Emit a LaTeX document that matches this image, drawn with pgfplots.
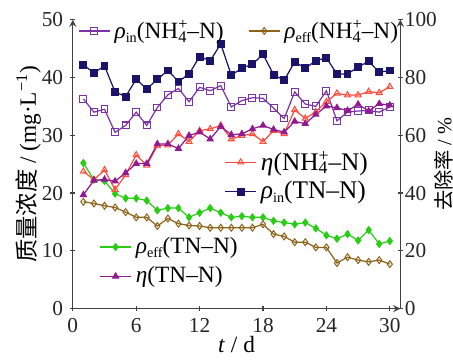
\documentclass[border=0pt]{standalone}
\usepackage{fontspec}
\setmainfont{Liberation Serif}
\newfontfamily\cjk{Noto Sans CJK SC}
\usepackage{pgfplots}
\usepackage{pgfplotstable}
\pgfplotsset{compat=1.18}
\definecolor{cRinNH}{RGB}{125,50,165}
\definecolor{cReffNH}{RGB}{140,100,25}
\definecolor{cEtaNH}{RGB}{255,75,60}
\definecolor{cRinTN}{RGB}{25,20,105}
\definecolor{cReffTN}{RGB}{40,205,20}
\definecolor{cEtaTN}{RGB}{145,25,145}
\pgfplotstableread{
t rinNH reffNH etaNH rinTN reffTN etaTN
1 36.3 18.5 47.5 42.2 25.2 39.4
2 34.0 18.2 44.6 40.8 22.3 44.4
3 34.5 17.8 48.0 42.0 22.1 44.7
4 30.5 17.5 41.2 37.5 19.9 44.1
5 31.7 16.7 46.3 36.7 19.1 47.0
6 34.0 15.8 53.2 39.7 19.1 50.2
7 31.7 15.8 49.6 38.0 18.7 50.2
8 34.8 14.3 56.4 39.7 17.0 57.0
9 37.0 15.6 56.6 41.2 17.4 57.0
10 38.1 14.7 60.5 39.3 17.4 55.4
11 35.8 14.4 57.8 40.6 15.8 59.9
12 38.3 14.3 61.6 43.6 16.6 61.1
13 37.7 14.0 62.2 42.9 17.4 58.7
14 38.6 14.0 63.4 45.8 16.6 63.0
15 34.9 14.0 58.7 40.4 15.8 60.2
16 36.0 14.0 59.9 41.6 16.0 60.5
17 36.5 14.0 60.5 42.3 15.8 62.2
18 36.4 14.6 57.8 44.0 15.8 63.4
19 34.7 12.9 61.6 40.5 15.2 62.0
20 32.9 12.5 60.5 39.5 14.9 61.1
21 37.5 11.5 68.8 42.7 14.6 64.8
22 35.4 11.5 65.8 41.6 14.9 64.0
23 35.0 10.6 68.1 42.9 13.9 67.2
24 37.7 10.6 71.6 43.4 12.7 70.1
25 32.5 7.9 74.5 40.6 12.1 69.5
26 34.0 8.9 73.9 40.6 12.9 68.5
27 34.2 8.4 73.9 41.8 11.8 70.7
28 34.3 8.1 75.1 42.8 13.6 68.4
29 34.0 8.4 74.7 40.9 11.2 70.9
30 34.9 7.7 76.8 41.2 11.7 70.4
}\data
\newcommand{\nh}{NH\rlap{\textsuperscript{+}}\textsubscript{4}}
\newcommand{\sub}[1]{\raisebox{-0.35ex}{\fontsize{7}{8}\selectfont #1}}
\pgfplotsset{
  base/.style={
    scale only axis, width=161.5pt, height=142.5pt,
    xmin=0, xmax=31,
    /pgf/number format/assume math mode=true,
    tick label style={font=\fontsize{10.5}{12}\selectfont, text=black!85},
    label style={font=\fontsize{11.5}{13}\selectfont},
    tick align=inside, major tick length=2.5pt,
    axis line style={-, black!75, line width=0.6pt},
    every tick/.style={black!75, line width=0.6pt},
  },
  ser/.style={line width=0.6pt, mark size=1.7pt, mark options={solid, line width=0.5pt}},
  leg/.style={
    base, hide axis, ymin=0, ymax=1,
    legend cell align=left,
    legend style={draw=none, fill=none, inner sep=0pt, font=\fontsize{11.5}{13}\selectfont,
      row sep=1pt},
    legend image code/.code={\draw[mark repeat=2, mark phase=2, #1] plot coordinates {(0cm,0cm)(0.27cm,0cm)(0.54cm,0cm)};},
  },
}
\begin{document}
\begin{tikzpicture}
\begin{axis}[base,
  axis x line=bottom, axis y line=left,
  ymin=0, ymax=50, ytick={0,10,...,50},
  xtick={0,6,...,30},
  title={\rule{0pt}{3.5pt}},
  title style={inner sep=0pt},
  xlabel={\textit{t} / d},
  xlabel style={yshift=5pt},
  ylabel={{\cjk 质量浓度} / (mg·L\textsuperscript{−1})},
  ylabel style={at={(rel axis cs:-0.135,0.5)}, anchor=center, inner ysep=8pt},
]
\addplot[ser, cRinNH, mark=square] table[x=t, y=rinNH] {\data};
\addplot[ser, cReffNH, mark=diamond] table[x=t, y=reffNH] {\data};
\addplot[ser, cRinTN, mark=square*] table[x=t, y=rinTN] {\data};
\addplot[ser, cReffTN, mark=diamond*] table[x=t, y=reffTN] {\data};
\end{axis}
\begin{axis}[base,
  axis x line=none, axis y line=right,
  ymin=0, ymax=100, ytick={0,20,...,100},
  yticklabel style={inner xsep=0.8pt},
  ylabel={{\cjk 去除率} / \%},
  ylabel style={at={(rel axis cs:1.132,0.5)}, anchor=center, inner ysep=0pt},
]
\addplot[ser, cEtaNH, mark=triangle] table[x=t, y=etaNH] {\data};
\addplot[ser, cEtaTN, mark=triangle*] table[x=t, y=etaTN] {\data};
\end{axis}
\begin{axis}[leg, legend columns=2,
  legend style={at={(rel axis cs:0.015,1.013)}, anchor=north west, /tikz/column 2/.style={column sep=10pt}}]
\addlegendimage{ser, cRinNH, mark=square}
\addlegendentry{\textit{ρ}\sub{in}(\nh–N)}
\addlegendimage{ser, cReffNH, mark=diamond}
\addlegendentry{\textit{ρ}\sub{eff}(\nh–N)}
\end{axis}
\begin{axis}[leg,
  legend style={at={(rel axis cs:0.462,0.56)}, anchor=north west, row sep=0pt, font=\fontsize{12.5}{14}\selectfont}]
\addlegendimage{ser, cEtaNH, mark=triangle}
\addlegendentry{\textit{η}(\nh–N)}
\addlegendimage{ser, cRinTN, mark=square*}
\addlegendentry{\textit{ρ}\sub{in}(TN–N)}
\end{axis}
\begin{axis}[leg,
  legend style={at={(rel axis cs:0.08,0.262)}, anchor=north west}]
\addlegendimage{ser, cReffTN, mark=diamond*}
\addlegendentry{\textit{ρ}\sub{eff}(TN–N)}
\addlegendimage{ser, cEtaTN, mark=triangle*}
\addlegendentry{\textit{η}(TN–N)}
\end{axis}
\end{tikzpicture}
\end{document}
